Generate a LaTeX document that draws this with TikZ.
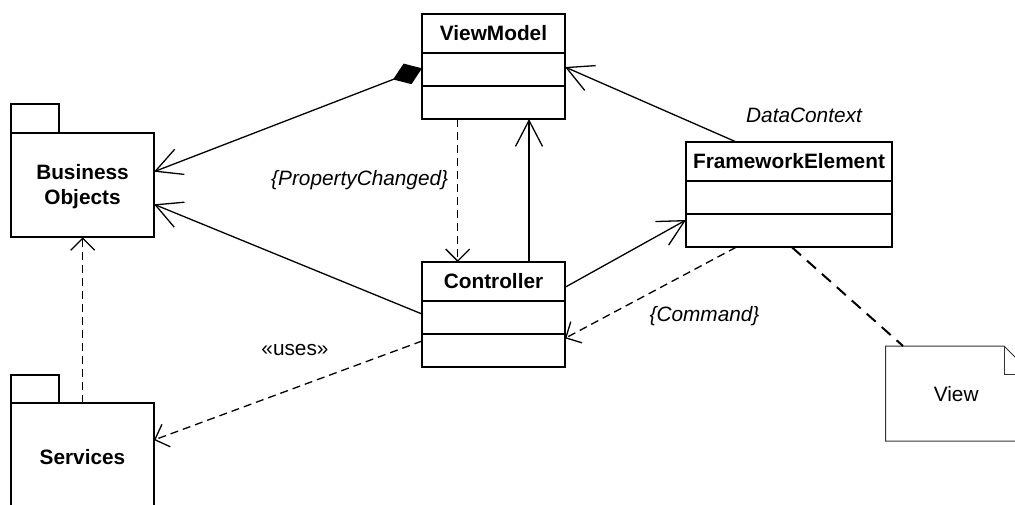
\documentclass[tikz,border=0pt]{standalone}
\usepackage{fontspec}
\setmainfont{Liberation Sans}
\usetikzlibrary{arrows.meta,calc}

% class box: name, x, y (top left), width, title
\newcommand\umlclass[5]{%
  \node[box, minimum width=#4pt, minimum height=105pt] (#1) at (#2,#3) {};
  \draw[frame] ($(#1.north west)+(0,38.5)$) -- ($(#1.north east)+(0,38.5)$);
  \draw[frame] ($(#1.north west)+(0,72)$) -- ($(#1.north east)+(0,72)$);
  \node[title] (#1-title) at ($(#1.north)+(0,26.5)$) {#5};
}

\begin{document}
\begin{tikzpicture}[x=1pt,y=-1pt,
  font=\fontsize{20.8}{25}\selectfont,
  frame/.style={line width=2pt},
  box/.style={draw, frame, inner sep=0pt, outer sep=0pt, anchor=north west},
  title/.style={font=\fontsize{20.8}{25}\selectfont\bfseries, anchor=base},
  lbl/.style={font=\fontsize{20.8}{25}\selectfont\itshape, anchor=base},
  conn/.style={line width=1.3pt},
  bigbarb/.style={-{Straight Barb[length=26pt,width=27pt]}},
  assoc/.style={conn, bigbarb},
  comp/.style={conn, {Diamond[length=31pt,width=22pt]}-{Straight Barb[length=26pt,width=27pt]}},
  dep/.style={conn, dash pattern=on 8pt off 5pt, -{Straight Barb[length=12pt,width=24pt]}},
  trace/.style={line width=2pt, dash pattern=on 12pt off 8pt},
  notebox/.style={line width=1pt, draw=black!80}
]
\useasboundingbox (0,0) rectangle (1015,504);

% classes
\umlclass{vm}{422}{14}{143}{ViewModel}
\umlclass{ctl}{422}{262}{143}{Controller}
\umlclass{fe}{686}{142.3}{206}{FrameworkElement}

% package: Business Objects
\node[box, minimum width=143pt, minimum height=104.6pt] (bo) at (11,132.7) {};
\draw[frame] (bo.north west) rectangle ($(bo.north west)+(48,-28.4)$);
\node[title] (bo-l1) at ($(bo.north)+(0,46.6)$) {Business};
\node[title] (bo-l2) at ($(bo.north)+(0,71.6)$) {Objects};

\begin{scope}
\clip (0,0) rectangle (1015,504);
% package: Services
\node[box, minimum width=143pt, minimum height=130pt] (sv) at (11,403.3) {};
\draw[frame] (sv.north west) rectangle ($(sv.north west)+(48,-28.3)$);
\node[title] (sv-l) at ($(sv.north)+(0,60.7)$) {Services};
% note: View
\node[inner sep=0pt, outer sep=0pt, minimum width=146.3pt, minimum height=95pt, anchor=north west] (view) at (885.7,346) {};
\draw[notebox] (view.north west) -- ($(view.north east)+(-28,0)$) -- ($(view.north east)+(0,28)$)
  -- (view.south east) -- (view.south west) -- cycle;
\draw[notebox] ($(view.north east)+(-28,0)$) -- ++(0,28) -- ($(view.north east)+(0,28)$);
\node[anchor=base] (view-l) at ($(view.north west)+(70.5,55.7)$) {View};
\end{scope}

% connectors
\draw[comp] ($(vm.north west)+(0,54.3)$) -- ($(bo.north east)+(0,39)$);
\draw[assoc] ($(fe.north west)+(51,0)$) -- ($(vm.north east)+(0,53)$);
\draw[dep] ($(vm.south west)+(35.7,0)$) -- ($(ctl.north west)+(35.7,0)$);
\draw[assoc] ($(ctl.north west)+(107,0)$) -- ($(vm.south west)+(107,0)$);
\draw[assoc] ($(ctl.north west)+(0,52)$) -- ($(bo.north east)+(0,71.6)$);
\draw[assoc] ($(ctl.north east)+(0,25.3)$) -- ($(fe.north west)+(0,77.7)$);
\draw[dep] ($(fe.south west)+(50,0)$) -- ($(ctl.north east)+(0,76.3)$);
\draw[trace] ($(fe.south west)+(106,0)$) -- ($(view.north west)+(17.3,0)$);
\draw[dep] ($(ctl.north west)+(0,79)$) -- ($(sv.north east)+(0,36.7)$);
\draw[dep] ($(sv.north west)+(71.7,0)$) -- ($(bo.south west)+(71.7,0)$);

% connector labels
\node[lbl] (dc) at (804,122.3) {DataContext};
\node[lbl, anchor=base east] (pc) at (451.7,185) {\{PropertyChanged\}};
\node[lbl] (cmd) at (704.5,321.7) {\{Command\}};
\node[anchor=base] (uses) at (295,355) {«uses»};
\end{tikzpicture}
\end{document}
